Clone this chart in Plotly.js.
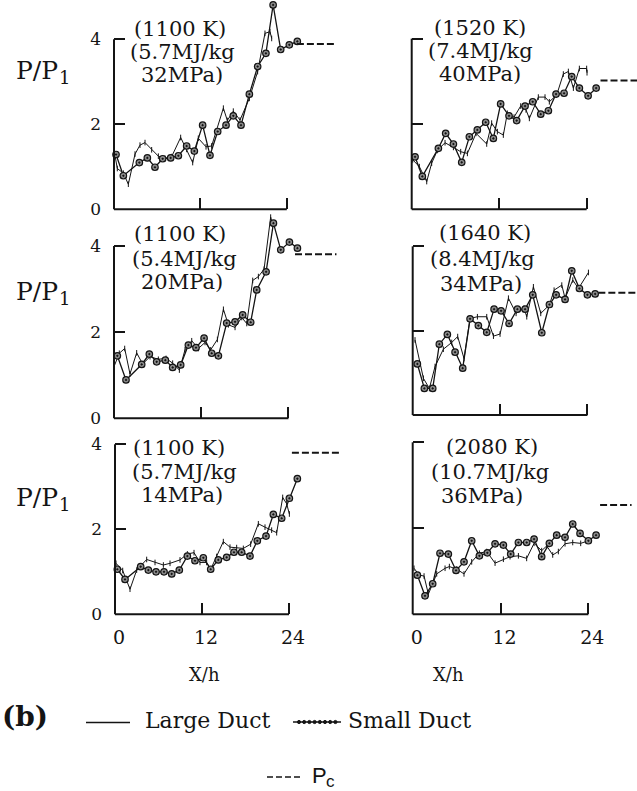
<!DOCTYPE html>
<html><head><meta charset="utf-8">
<script src="https://cdn.plot.ly/plotly-3.0.1.min.js"></script>
<style>html,body{margin:0;padding:0;background:#fff}#chart{width:637px;height:791px}</style>
</head><body><div id="chart"></div>
<script>
// ---------------- data ----------------
// Top-left: (1100 K) (5.7MJ/kg 32MPa)
const xSmallTL = [0.28,1.30,3.52,4.63,5.69,6.76,7.87,8.94,10.09,11.16,12.31,13.33,14.4,15.56,16.57,17.64,18.8,19.95,21.1,22.1,23.15,24.35,25.46];
const ySmallTL = [1.29,0.79,1.10,1.21,0.99,1.19,1.21,1.26,1.49,1.37,1.98,1.27,1.83,1.98,2.20,1.98,2.71,3.36,3.67,4.81,3.76,3.87,3.95];
const xLargeTL = [0,0.46,1.30,1.99,2.92,3.61,4.31,5.23,6.16,7.08,8.01,9.26,10.09,10.93,11.71,12.78,13.56,14.17,15.19,15.74,16.57,17.5,18.8,19.95,20.97,21.67,21.9];
const yLargeTL = [1.40,0.96,0.85,0.59,1.30,1.51,1.57,1.40,1.25,1.20,1.24,1.69,1.41,1.10,1.67,1.47,1.49,1.83,2.38,2.09,2.31,2.10,2.61,3.24,4.14,4.18,4.02];
// Top-right: (1520 K) (7.4MJ/kg 40MPa)
const xSmallTR = [0.46,1.46,3.66,4.66,5.72,6.86,7.91,9.0,10.15,11.2,12.2,13.35,14.4,15.55,16.6,17.7,18.75,19.8,20.9,21.95,23.0,24.2,25.3];
const ySmallTR = [1.23,0.77,1.43,1.78,1.53,1.10,1.70,1.86,2.04,1.66,2.47,2.19,2.08,2.42,2.52,2.23,2.31,2.70,2.72,3.11,2.84,2.66,2.84];
const xLargeTR = [0.14,1.05,2.06,2.74,3.52,4.57,5.72,6.72,7.64,8.83,10.29,10.97,11.75,12.57,13.12,14.04,14.95,15.68,16.14,17.37,18.29,18.88,19.89,20.8,21.49,22.18,23.0,24.0,24.05];
const yLargeTR = [1.16,1.0,0.65,1.08,1.38,1.56,1.45,1.35,1.31,1.78,1.53,2.02,1.82,1.74,2.25,2.16,2.42,2.33,2.13,2.63,2.63,2.52,2.68,3.17,3.23,2.84,3.30,3.30,3.20];
// Middle-left: (1100 K) (5.4MJ/kg 20MPa)
const xSmallML = [0.46,1.65,3.81,4.86,5.87,7.06,8.07,9.17,10.23,11.28,12.39,13.44,14.36,15.5,16.65,17.7,18.8,19.63,20.92,21.93,22.94,24.13,25.23];
const ySmallML = [1.45,0.89,1.25,1.49,1.31,1.35,1.18,1.24,1.70,1.64,1.86,1.51,1.45,2.21,2.24,2.40,2.23,2.98,3.40,4.53,3.91,4.09,3.95];
const xLargeML = [0,0.73,1.47,2.2,3.12,3.94,4.95,6.1,7.16,8.07,8.99,9.77,10.69,11.6,12.52,13.3,14.22,15.05,15.73,16.65,17.57,18.26,19.08,19.86,20.64,21.55,21.8];
const yLargeML = [1.2,1.51,1.62,1.03,1.52,1.26,1.43,1.37,1.39,1.28,1.12,1.59,1.80,1.62,1.76,1.59,1.83,2.53,2.17,2.11,2.34,2.2,3.2,3.29,3.46,4.67,4.5];
// Middle-right: (1640 K) (8.4MJ/kg 34MPa)
const xSmallMR = [0.64,1.6,2.75,3.66,4.76,5.82,6.87,7.88,9.02,10.17,11.18,12.14,13.24,14.38,15.44,16.49,17.73,18.78,19.7,20.93,21.85,22.9,24.0,25.06];
const ySmallMR = [1.21,0.63,0.63,1.68,1.91,1.49,1.11,2.28,2.12,1.96,2.51,2.47,2.17,2.51,2.51,2.85,1.95,2.62,2.85,2.74,3.42,3.0,2.85,2.87];
const xLargeMR = [0.32,1.47,2.29,3.07,4.21,5.36,6.18,7.05,7.88,8.89,10.17,11.09,12.0,13.15,14.2,15.3,15.67,16.58,17.59,18.78,19.42,20.48,20.93,21.99,22.77,24.14];
const yLargeMR = [1.78,0.87,0.63,1.15,1.56,1.72,1.86,1.34,2.29,2.33,2.33,1.87,1.92,2.77,2.41,2.53,2.33,3.04,2.41,2.61,2.96,3.08,2.77,3.2,3.0,3.38];
// Bottom-left: (1100 K) (5.7MJ/kg 14MPa)
const xSmallBL = [0.32,1.38,3.54,4.6,5.66,6.76,7.82,8.87,9.98,11.03,12.18,13.2,14.25,15.4,16.41,17.47,18.62,19.63,20.83,21.84,22.99,24.05,25.15];
const ySmallBL = [1.06,0.82,1.12,1.04,1.0,1.0,0.95,1.04,1.37,1.26,1.33,1.06,1.28,1.34,1.46,1.46,1.37,1.73,1.84,2.35,2.26,2.73,3.19];
const xLargeBL = [0.14,1.06,2.07,2.99,4.37,5.52,6.67,7.59,8.97,9.98,10.9,11.72,12.64,13.2,14.02,14.94,15.86,16.78,17.7,18.71,19.77,20.69,21.61,22.3,23.13,23.68,24.05];
const yLargeBL = [1.2,1.03,0.59,1.04,1.29,1.22,1.16,1.2,1.28,1.42,1.45,1.22,1.22,1.06,1.36,1.71,1.58,1.57,1.55,1.65,2.13,2.05,1.98,1.92,2.75,2.60,2.36];
// Bottom-right: (2080 K) (10.7MJ/kg 36MPa)
const xSmallBR = [0.64,1.68,2.73,3.73,4.87,5.92,7.01,8.06,9.11,10.2,11.25,12.39,13.39,14.44,15.57,16.58,17.62,18.67,19.67,20.81,21.86,22.86,24.0,25.05];
const ySmallBR = [0.91,0.43,0.71,1.42,1.40,1.02,1.22,1.71,1.36,1.43,1.64,1.61,1.40,1.67,1.67,1.75,1.34,1.65,1.84,1.79,2.1,1.88,1.71,1.84];
const xLargeBR = [0.18,0.91,1.55,2.14,3.28,4.42,5.01,6.01,7.01,8.06,9.11,10.11,11.25,12.39,13.3,14.44,15.57,16.58,17.62,18.31,19.13,19.9,20.81,21.86,22.95,24.0];
const yLargeBR = [1.07,0.91,0.89,0.47,0.94,1.07,1.11,1.05,0.94,1.22,1.42,1.46,1.19,1.28,1.34,1.36,1.30,1.65,1.48,1.59,1.38,1.46,1.64,1.67,1.65,1.71];

// Pc levels (TL, TR, ML, MR, BL, BR) and the X/h span of each dashed segment
const pcLevel = [3.89, 3.02, 3.81, 2.90, 3.80, 2.54];
const pcFrom  = [25.4, 25.9, 24.9, 25.5, 24.4, 25.6];
const pcTo    = [30.6, 31.5, 30.6, 31.5, 31.0, 29.9];

// condition labels
const labelTemp   = ['(1100 K)', '(1520 K)', '(1100 K)', '(1640 K)', '(1100 K)', '(2080 K)'];
const labelEnergy = ['(5.7MJ/kg', '(7.4MJ/kg', '(5.4MJ/kg', '(8.4MJ/kg', '(5.7MJ/kg', '(10.7MJ/kg'];
const labelPress  = ['32MPa)', '40MPa)', '20MPa)', '34MPa)', '14MPa)', '36MPa)'];

// axis ticks
const xTickVals = [0, 12, 24];
const xTickText = ['0', '12', '24'];
const yTickVals = [0, 2, 4];
const yTickText = ['0', '2', '4'];
const xAxisEnd = 24;
const yAxisEnd = 4;

const seriesLarge = [[xLargeTL,yLargeTL],[xLargeTR,yLargeTR],[xLargeML,yLargeML],[xLargeMR,yLargeMR],[xLargeBL,yLargeBL],[xLargeBR,yLargeBR]];
const seriesSmall = [[xSmallTL,ySmallTL],[xSmallTR,ySmallTR],[xSmallML,ySmallML],[xSmallMR,ySmallMR],[xSmallBL,ySmallBL],[xSmallBR,ySmallBR]];

// ---------------- layout geometry (pixels) ----------------
const W = 637, H = 791;
const geom = [
  {x0:114,   sx:7.20, y0:209.3, sy:42.5,  right:350, top:0,   lx:[180,182,182], ly:[29,52,75]},
  {x0:411.7, sx:7.29, y0:209.3, sy:42.67, right:637, top:0,   lx:[480,481,480], ly:[28,51,74]},
  {x0:114,   sx:7.27, y0:418.3, sy:43.08, right:350, top:212, lx:[180,184,182], ly:[234,259,282]},
  {x0:412.7, sx:7.28, y0:415,   sy:42.17, right:637, top:212, lx:[485,482,481], ly:[233,259,284]},
  {x0:115,   sx:7.25, y0:614.3, sy:42.5,  right:350, top:425, lx:[179,184,182], ly:[448,472,495]},
  {x0:412.7, sx:7.32, y0:614.3, sy:43.0,  right:637, top:425, lx:[492,490,482], ly:[447,472,496]}
];
const px = v => v / W;
const py = v => 1 - v / H;
const INK = '#141414';
const SERIF = 'DejaVu Serif, Liberation Serif, serif';
const SANS = 'Liberation Sans, Arial, sans-serif';

const traces = [];
const layout = {
  width: W, height: H,
  margin: {l:0, r:0, t:0, b:0},
  paper_bgcolor: '#ffffff', plot_bgcolor: 'rgba(0,0,0,0)',
  showlegend: false,
  font: {family: SERIF, color: INK},
  shapes: [], annotations: []
};

function note(xPx, yPx, text, size, family, anchor) {
  layout.annotations.push({xref:'paper', yref:'paper', x:px(xPx), y:py(yPx),
    xanchor: anchor || 'center', yanchor:'middle', showarrow:false, text:text,
    font:{family: family || SERIF, size:size, color:INK}});
}

geom.forEach((g, i) => {
  const s = i === 0 ? '' : String(i + 1);
  const xr = (g.right - g.x0) / g.sx;
  const yr = (g.y0 - g.top) / g.sy;
  const leftCol = (i % 2 === 0);
  const bottomRow = (i >= 4);
  layout['xaxis' + s] = {
    domain: [px(g.x0), px(g.right)], range: [0, xr], anchor: 'y' + s,
    showgrid: false, zeroline: false, showline: false,
    ticks: 'inside', ticklen: 11, tickwidth: 2, tickcolor: INK,
    tickmode: 'array', tickvals: xTickVals, ticktext: xTickText,
    showticklabels: bottomRow, tickfont: {family: SERIF, size: 19, color: INK},
    ticklabelstandoff: 10, ticklabelshift: 4, fixedrange: true
  };
  layout['yaxis' + s] = {
    domain: [py(g.y0), py(g.top)], range: [0, yr], anchor: 'x' + s,
    showgrid: false, zeroline: false, showline: false,
    ticks: 'inside', ticklen: 11, tickwidth: 2, tickcolor: INK,
    tickmode: 'array', tickvals: yTickVals, ticktext: yTickText,
    showticklabels: leftCol, tickfont: {family: SERIF, size: 17, color: INK},
    ticklabelstandoff: 12, fixedrange: true
  };
  // L-shaped axis frame (left up to 4, bottom up to 24)
  layout.shapes.push({type:'line', xref:'x'+s+' domain', yref:'y'+s+' domain',
    x0:0, x1:0, y0:0, y1:yAxisEnd / yr, line:{color:INK, width:2}});
  layout.shapes.push({type:'line', xref:'x'+s+' domain', yref:'y'+s+' domain',
    x0:0, x1:xAxisEnd / xr, y0:0, y1:0, line:{color:INK, width:2}});

  const [xl, yl] = seriesLarge[i];
  const [xs, ys] = seriesSmall[i];
  traces.push({type:'scatter', mode:'lines+markers', x: xl, y: yl, xaxis:'x'+s, yaxis:'y'+s,
    name:'Large Duct', cliponaxis:false,
    line:{color:INK, width:1}, marker:{symbol:'line-ns-open', size:4, line:{color:INK, width:1}}});
  traces.push({type:'scatter', mode:'lines+markers', x: xs, y: ys, xaxis:'x'+s, yaxis:'y'+s,
    name:'Small Duct', cliponaxis:false,
    line:{color:INK, width:1.3},
    marker:{symbol:'circle-dot', size:6.5, color:'#8c8c8c', line:{color:INK, width:1.2}}});
  traces.push({type:'scatter', mode:'lines', x:[pcFrom[i], pcTo[i]], y:[pcLevel[i], pcLevel[i]],
    xaxis:'x'+s, yaxis:'y'+s, name:'Pc',
    line:{color:INK, width:2, dash:'7px,3px'}});

  [labelTemp[i], labelEnergy[i], labelPress[i]].forEach((t, k) => note(g.lx[k], g.ly[k], t, 21));
});

// Y-axis labels P/P1 (left column): main text plus lowered small "1"
[71, 291, 497].forEach(yy => {
  note(14, yy, 'P/P', 25, SERIF, 'left');
  note(57, yy + 7, '1', 18, SERIF, 'left');
});
// X-axis labels
note(204, 674, 'X/h', 18);
note(448, 674, 'X/h', 18);

// Panel tag and key
note(0, 716, '<b>(b)</b>', 28, SERIF, 'left');
note(143, 720, 'Large Duct', 22, SERIF, 'left');
note(346, 720, 'Small Duct', 22, SERIF, 'left');
note(310, 775, 'P', 22, SANS, 'left');
note(324, 781, 'c', 17, SANS, 'left');

// key samples
layout.shapes.push({type:'line', xref:'paper', yref:'paper', x0:px(86), x1:px(130), y0:py(722.5), y1:py(722.5), line:{color:INK, width:1.5}});
layout.shapes.push({type:'line', xref:'paper', yref:'paper', x0:px(293), x1:px(341), y0:py(722), y1:py(722), line:{color:INK, width:1.3}});
for (let k = 0; k < 8; k++) {
  const cx = 299 + k * 5.2;
  layout.shapes.push({type:'circle', xref:'paper', yref:'paper', x0:px(cx-1.6), x1:px(cx+1.6), y0:py(722-1.6), y1:py(722+1.6),
    line:{color:INK, width:1}, fillcolor:INK});
}
layout.shapes.push({type:'line', xref:'paper', yref:'paper', x0:px(267), x1:px(303), y0:py(777), y1:py(777), line:{color:INK, width:1.5, dash:'6px,3px'}});

Plotly.newPlot('chart', traces, layout, {staticPlot:true, displayModeBar:false});
</script>
</body></html>
